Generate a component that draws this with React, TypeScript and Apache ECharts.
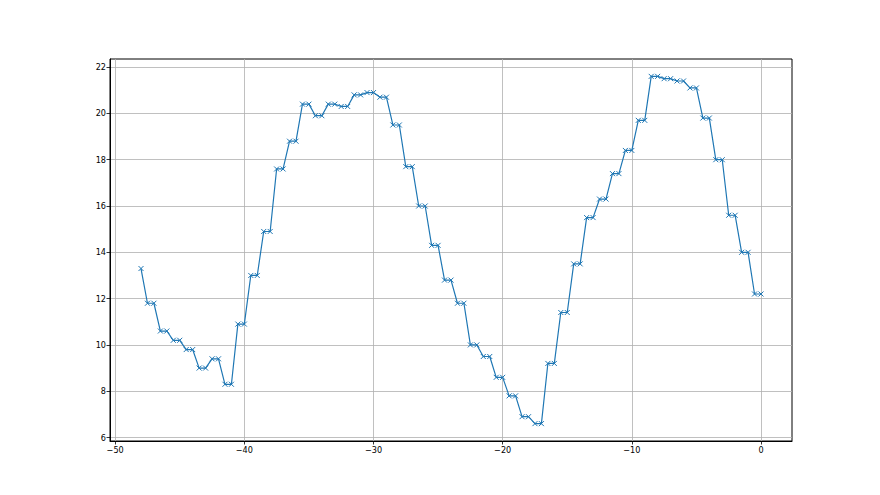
import React, { useEffect, useRef } from "react";
import * as echarts from "echarts";

const xStart = -48;
const firstValue = 13.3;
// each value is held for two consecutive samples (x = -k-0.5 and -k)
const pairValues = [
  11.8, 10.6, 10.2, 9.8, 9.0, 9.4, 8.3, 10.9, 13.0, 14.9,
  17.6, 18.8, 20.4, 19.9, 20.4, 20.3, 20.8, 20.9, 20.7, 19.5,
  17.7, 16.0, 14.3, 12.8, 11.8, 10.0, 9.5, 8.6, 7.8, 6.9,
  6.6, 9.2, 11.4, 13.5, 15.5, 16.3, 17.4, 18.4, 19.7, 21.6,
  21.5, 21.4, 21.1, 19.8, 18.0, 15.6, 14.0, 12.2,
];
const xTicks = [-50, -40, -30, -20, -10, 0];
const yTicks = [6, 8, 10, 12, 14, 16, 18, 20, 22];

function buildPoints(): [number, number][] {
  const pts: [number, number][] = [[xStart, firstValue]];
  pairValues.forEach((v, i) => {
    const base = xStart + 1 + i;
    pts.push([base - 0.5, v]);
    pts.push([base, v]);
  });
  return pts;
}

const FONT = "'DejaVu Sans Condensed', 'Liberation Sans Narrow', 'DejaVu Sans', sans-serif";
const minus = (v: number) => String(v).replace("-", "\u2212");

export default function App() {
  const ref = useRef<HTMLDivElement>(null);
  useEffect(() => {
    document.body.style.margin = "0";
    if (!ref.current) return;
    const chart = echarts.init(ref.current, undefined, { renderer: "svg" });
    const pts = buildPoints();
    const axisCommon = {
      axisLine: { show: true, onZero: false, lineStyle: { color: "#000", width: 1 } },
      axisTick: { show: true, length: 3.5, lineStyle: { color: "#000", width: 0.8 } },
      splitLine: { show: true, lineStyle: { color: "#b0b0b0", width: 0.8 } },
    };
    chart.setOption({
      animation: false,
      backgroundColor: "#fff",
      grid: {
        left: 110,
        right: 88,
        top: 59,
        bottom: 54,
        show: true,
        borderColor: "#000",
        borderWidth: 1,
        backgroundColor: "transparent",
      },
      xAxis: {
        type: "value",
        min: -50.4,
        max: 2.4,
        position: "bottom",
        ...axisCommon,
        axisTick: { ...axisCommon.axisTick, customValues: xTicks },
        axisLabel: {
          customValues: xTicks,
          formatter: minus,
          color: "#000",
          fontSize: 9,
          fontFamily: FONT,
          margin: 4,
        },
      },
      yAxis: {
        type: "value",
        min: 5.85,
        max: 22.35,
        position: "left",
        ...axisCommon,
        axisTick: { ...axisCommon.axisTick, customValues: yTicks },
        axisLabel: {
          customValues: yTicks,
          formatter: minus,
          color: "#000",
          fontSize: 9,
          fontFamily: FONT,
          margin: 4,
        },
      },
      series: [
        {
          type: "line",
          data: pts,
          lineStyle: { color: "#1f77b4", width: 1.2 },
          symbol: "path://M0,0L10,10M10,0L0,10",
          symbolSize: 5,
          showAllSymbol: true,
          itemStyle: { color: "#1f77b4", borderColor: "#1f77b4", borderWidth: 1 },
        },
      ],
    });
    return () => chart.dispose();
  }, []);
  return <div ref={ref} style={{ width: 880, height: 495 }} />;
}
